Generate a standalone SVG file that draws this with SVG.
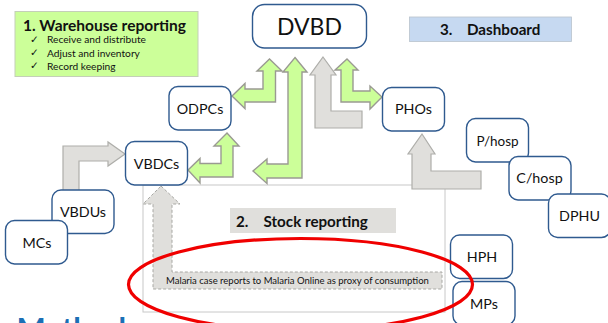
<svg xmlns="http://www.w3.org/2000/svg" width="608" height="323" viewBox="0 0 608 323">
<style>
text{font-family:Lato,"Liberation Sans",sans-serif;fill:#111}
.n{fill:#fff;stroke:#2f5a8f;stroke-width:1.4}
.l{font-size:14.300px;text-anchor:middle}
.g{fill:#ccff99;stroke:#9a9a92;stroke-width:1.4}
.y{fill:#e0dfdc;stroke:#aeaeaa;stroke-width:1.2}
.c{font-size:10.5px;font-family:"DejaVu Sans",sans-serif}
.b{font-size:10.200px}
.h{font-size:15.200px;font-weight:700}
</style>
<rect width="608" height="323" fill="#fff"/>
<text x="16.500" y="339.500" style="font-size:31px;font-weight:700;fill:#1b6fb5">Methods</text>
<g id="panel-stock"><rect x="143" y="185" width="302" height="127" fill="#fff" stroke="#c8c8c8" stroke-width="1"/></g>
<g id="connectors">
<path class="g" d="M232 96L245 83.500V89H263V71H257L269.500 59L282 71H275.500V102H245V108.500Z"/>
<path class="g" d="M295 57.500L307 72H302V178H267V183.500L253 171L267 159V164H288V72H283Z"/>
<path class="g" d="M188 170L200 158.500V163.500H221V146H214L227 133L239 146H233V177H200V183Z"/>
<path class="y" d="M323 57L336 75H331V111H362V128H315V75H310Z"/>
<path class="g" d="M347 59L358 70H353V91H370V86L382 97L370 109V102H341V70H335Z"/>
<path class="y" d="M422 134L435 154H431V171H481V189H412V154H408Z"/>
<path class="y" d="M125 154L108 166V161H79V192H63V146H108V142Z"/>
<path d="M161 186L180 204H172V272H442V289H153V204H143Z" fill="#e0dfdc" stroke="#a8a8a4" stroke-width="1" stroke-dasharray="3 2"/>
</g>
<g id="warehouse">
<rect x="15" y="11.500" width="183" height="65" fill="#ccff99" stroke="#c4cfb8"/>
<text x="23" y="30.500" style="font-size:15.500px;font-weight:700">1. Warehouse reporting</text>
<text class="c" x="30" y="43">✓</text><text class="b" x="47" y="43">Receive and distribute</text>
<text class="c" x="30" y="56">✓</text><text class="b" x="47" y="56.500">Adjust and inventory</text>
<text class="c" x="30" y="69">✓</text><text class="b" x="47" y="70">Record keeping</text>
</g>
<g id="dashboard"><rect x="409.500" y="17" width="162" height="24.500" fill="#c6d9f1" stroke="#b8c2cc" stroke-width=".8"/>
<text class="h" x="440" y="35">3.</text><text class="h" x="467" y="35">Dashboard</text></g>
<g id="stock"><rect x="230" y="208" width="166" height="25" fill="#e0dfdc"/>
<text class="h" x="236" y="226.500">2.</text><text class="h" x="263.500" y="226.500">Stock reporting</text></g>
<text x="166" y="283.500" style="font-size:9.500px" id="case-text">Malaria case reports to Malaria Online as proxy of consumption</text>
<g id="dvbd"><rect class="n" x="252.500" y="4.500" width="114" height="43.500" rx="12"/><text x="309.500" y="35" style="font-size:23px;text-anchor:middle">DVBD</text></g>
<g id="odpcs"><rect class="n" x="169" y="86.500" width="62" height="43.500" rx="9"/><text class="l" x="200" y="113.500">ODPCs</text></g>
<g id="vbdcs"><rect class="n" x="125.500" y="141.500" width="62" height="43.500" rx="9"/><text class="l" x="156.500" y="168.500">VBDCs</text></g>
<g id="phos"><rect class="n" x="382.500" y="87.500" width="62" height="43.500" rx="9"/><text class="l" x="413.500" y="114">PHOs</text></g>
<g id="phosp"><rect class="n" x="466.500" y="118.500" width="62" height="43.500" rx="9"/><text class="l" x="497.500" y="146" style="font-size:13.500px">P/hosp</text></g>
<g id="chosp"><rect class="n" x="509" y="156.500" width="62" height="43.500" rx="9"/><text class="l" x="539.500" y="183">C/hosp</text></g>
<g id="dphu"><rect class="n" x="548.500" y="194" width="62" height="43.500" rx="9"/><text class="l" x="579.500" y="221">DPHU</text></g>
<g id="hph"><rect class="n" x="450.500" y="235" width="62" height="43.500" rx="9"/><text class="l" x="482" y="262">HPH</text></g>
<g id="mps"><rect class="n" x="453" y="281.500" width="62" height="43.500" rx="9"/><text class="l" x="484" y="308.500">MPs</text></g>
<g id="vbdus"><rect class="n" x="52" y="190" width="62" height="43.500" rx="9"/><text class="l" x="83" y="216.500">VBDUs</text></g>
<g id="mcs"><rect class="n" x="5.500" y="220.500" width="62" height="43.500" rx="9"/><text class="l" x="37" y="247.500">MCs</text></g>
<ellipse id="highlight" cx="300.500" cy="284.500" rx="172" ry="46" fill="none" stroke="#f00000" stroke-width="3.200"/>
</svg>
